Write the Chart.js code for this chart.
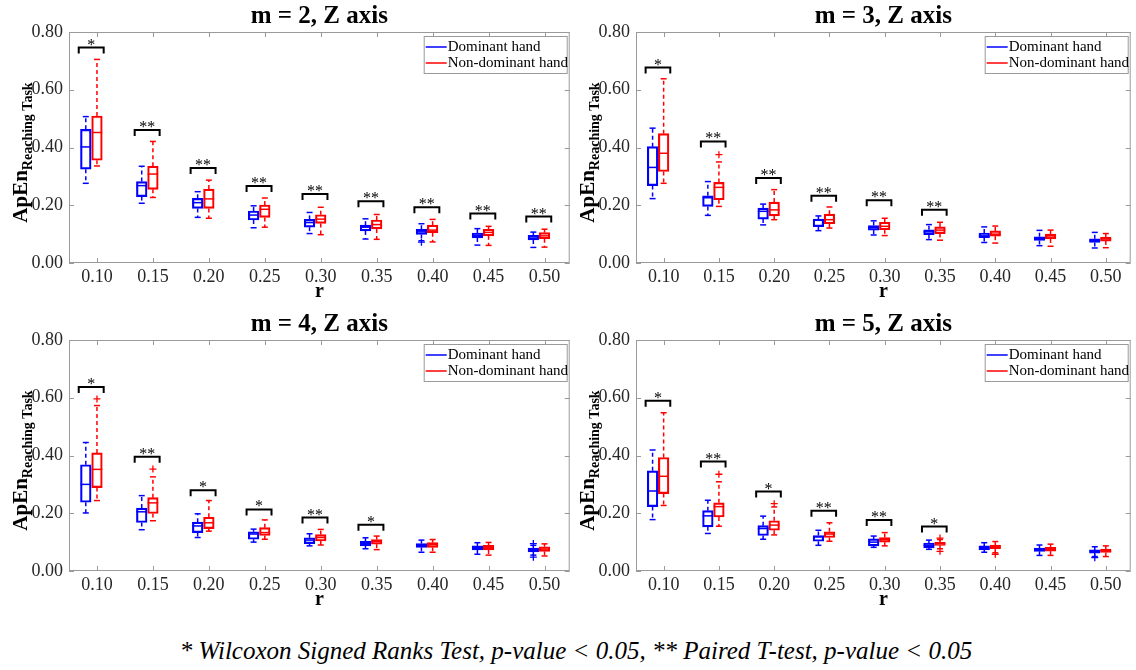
<!DOCTYPE html>
<html>
<head>
<meta charset="utf-8">
<script src="https://cdn.jsdelivr.net/npm/chart.js@4.4.0/dist/chart.umd.min.js"></script>
<style>
  body { margin: 0; background: #fff; width: 1136px; height: 670px; position: relative; overflow: hidden; }
  .panel { position: absolute; }
  #note { position: absolute; left: 16px; width: 1120px; top: 637px; text-align: center;
          font-family: 'Liberation Serif', 'Times New Roman', serif; font-style: italic; font-size: 25px; color: #000; }
</style>
</head>
<body>
<div class="panel" style="left:0;top:0"><canvas id="m2" width="575" height="305"></canvas></div>
<div class="panel" style="left:567px;top:0"><canvas id="m3" width="569" height="305"></canvas></div>
<div class="panel" style="left:0;top:308px"><canvas id="m4" width="575" height="305"></canvas></div>
<div class="panel" style="left:567px;top:308px"><canvas id="m5" width="569" height="305"></canvas></div>
<div id="note">* Wilcoxon Signed Ranks Test, p-value &lt; 0.05, ** Paired T-test, p-value &lt; 0.05</div>
<script>
const rValues = [0.10, 0.15, 0.20, 0.25, 0.30, 0.35, 0.40, 0.45, 0.50];
const yTicks = [0, 0.2, 0.4, 0.6, 0.8];

// each row: [lower whisker, Q1, median, Q3, upper whisker]
const m2Dominant = [
  [0.276, 0.325, 0.402, 0.463, 0.507],
  [0.207, 0.230, 0.268, 0.282, 0.335],
  [0.158, 0.189, 0.209, 0.224, 0.247],
  [0.122, 0.149, 0.166, 0.180, 0.198],
  [0.102, 0.124, 0.140, 0.151, 0.175],
  [0.083, 0.111, 0.124, 0.131, 0.153],
  [0.077, 0.099, 0.108, 0.117, 0.136],
  [0.062, 0.087, 0.096, 0.104, 0.119],
  [0.054, 0.080, 0.090, 0.096, 0.107]
];
const m2NonDominant = [
  [0.336, 0.356, 0.452, 0.509, 0.705],
  [0.227, 0.255, 0.308, 0.335, 0.421],
  [0.155, 0.189, 0.222, 0.256, 0.287],
  [0.124, 0.158, 0.186, 0.201, 0.225],
  [0.098, 0.137, 0.152, 0.167, 0.193],
  [0.082, 0.118, 0.133, 0.149, 0.168],
  [0.073, 0.105, 0.114, 0.131, 0.151],
  [0.061, 0.094, 0.106, 0.117, 0.127],
  [0.055, 0.084, 0.094, 0.105, 0.117]
];
const m2DomOutliers = [[0.40, 0.072]];
const m2NonDomOutliers = [];
const m2BracketY = [0.746, 0.461, 0.329, 0.267, 0.239, 0.214, 0.193, 0.171, 0.161];
const m2Marks = ['*', '**', '**', '**', '**', '**', '**', '**', '**'];

const m3Dominant = [
  [0.223, 0.268, 0.331, 0.403, 0.467],
  [0.165, 0.196, 0.226, 0.233, 0.282],
  [0.132, 0.152, 0.179, 0.190, 0.204],
  [0.112, 0.126, 0.148, 0.152, 0.163],
  [0.097, 0.114, 0.123, 0.130, 0.146],
  [0.081, 0.098, 0.108, 0.115, 0.133],
  [0.071, 0.088, 0.094, 0.104, 0.125],
  [0.060, 0.078, 0.085, 0.091, 0.113],
  [0.052, 0.071, 0.078, 0.084, 0.106]
];
const m3NonDominant = [
  [0.276, 0.317, 0.380, 0.448, 0.638],
  [0.196, 0.219, 0.262, 0.279, 0.350],
  [0.150, 0.163, 0.184, 0.211, 0.254],
  [0.121, 0.136, 0.150, 0.169, 0.194],
  [0.095, 0.115, 0.127, 0.141, 0.155],
  [0.079, 0.102, 0.114, 0.125, 0.141],
  [0.069, 0.093, 0.100, 0.111, 0.128],
  [0.058, 0.083, 0.090, 0.100, 0.114],
  [0.053, 0.076, 0.084, 0.090, 0.102]
];
const m3DomOutliers = [];
const m3NonDomOutliers = [[0.15, 0.375]];
const m3BracketY = [0.677, 0.421, 0.294, 0.233, 0.217, 0.184, null, null, null];
const m3Marks = ['*', '**', '**', '**', '**', '**', '', '', ''];

const m4Dominant = [
  [0.201, 0.238, 0.300, 0.368, 0.445],
  [0.143, 0.168, 0.205, 0.218, 0.261],
  [0.116, 0.133, 0.156, 0.169, 0.198],
  [0.100, 0.110, 0.128, 0.136, 0.145],
  [0.087, 0.095, 0.107, 0.115, 0.129],
  [0.077, 0.087, 0.096, 0.103, 0.115],
  [0.065, 0.082, 0.087, 0.095, 0.107],
  [0.058, 0.073, 0.081, 0.087, 0.098],
  [0.055, 0.066, 0.073, 0.079, 0.089]
];
const m4NonDominant = [
  [0.244, 0.289, 0.352, 0.409, 0.573],
  [0.174, 0.199, 0.236, 0.254, 0.326],
  [0.138, 0.147, 0.167, 0.186, 0.244],
  [0.110, 0.123, 0.133, 0.150, 0.177],
  [0.090, 0.104, 0.116, 0.126, 0.144],
  [0.074, 0.093, 0.103, 0.109, 0.121],
  [0.065, 0.082, 0.091, 0.098, 0.109],
  [0.055, 0.073, 0.082, 0.089, 0.099],
  [0.052, 0.068, 0.076, 0.084, 0.094]
];
const m4DomOutliers = [[0.50, 0.095], [0.50, 0.048]];
const m4NonDomOutliers = [[0.10, 0.596], [0.15, 0.353]];
const m4BracketY = [0.637, 0.396, 0.280, 0.213, 0.185, 0.160, null, null, null];
const m4Marks = ['*', '**', '*', '*', '**', '*', '', '', ''];

const m5Dominant = [
  [0.178, 0.223, 0.277, 0.347, 0.419],
  [0.130, 0.153, 0.191, 0.209, 0.245],
  [0.110, 0.123, 0.147, 0.157, 0.190],
  [0.089, 0.103, 0.118, 0.123, 0.141],
  [0.082, 0.087, 0.100, 0.111, 0.121],
  [0.075, 0.080, 0.089, 0.097, 0.107],
  [0.065, 0.073, 0.081, 0.087, 0.098],
  [0.054, 0.068, 0.074, 0.079, 0.090],
  [0.050, 0.062, 0.068, 0.073, 0.084]
];
const m5NonDominant = [
  [0.227, 0.268, 0.328, 0.393, 0.548],
  [0.155, 0.187, 0.223, 0.236, 0.309],
  [0.125, 0.141, 0.159, 0.174, 0.222],
  [0.103, 0.116, 0.128, 0.136, 0.167],
  [0.087, 0.100, 0.109, 0.116, 0.133],
  [0.077, 0.089, 0.095, 0.099, 0.109],
  [0.063, 0.077, 0.084, 0.090, 0.102],
  [0.054, 0.069, 0.076, 0.082, 0.093],
  [0.050, 0.064, 0.070, 0.076, 0.087]
];
const m5DomOutliers = [[0.50, 0.046]];
const m5NonDomOutliers = [[0.15, 0.335], [0.20, 0.233], [0.35, 0.114], [0.35, 0.068], [0.40, 0.058]];
const m5BracketY = [0.590, 0.379, 0.275, 0.209, 0.177, 0.154, null, null, null];
const m5Marks = ['*', '**', '*', '**', '**', '*', '', '', ''];

const BLUE = '#0000ff';
const RED = '#ff0000';
const AXIS = '#9a9a9a';
const FONT = "'Liberation Serif', 'Times New Roman', serif";
const DOM_SHIFT = -0.01;

function line(ctx, x1, y1, x2, y2) {
  ctx.beginPath();
  ctx.moveTo(x1, y1);
  ctx.lineTo(x2, y2);
  ctx.stroke();
}

function overlay(title, dom, nonDom, bracketY, marks) {
  return {
    id: 'overlay',
    afterDatasetsDraw(chart) {
      const { ctx, scales: { x, y } } = chart;
      ctx.save();
      ctx.lineWidth = 1.5;
      [[dom, BLUE, DOM_SHIFT], [nonDom, RED, 0]].forEach(([stats, color, shift]) => {
        ctx.strokeStyle = color;
        stats.forEach((s, i) => {
          const cx = x.getPixelForValue(rValues[i] + shift);
          const [lo, q1, med, q3, hi] = s.map(v => y.getPixelForValue(v));
          ctx.setLineDash([4, 3]);
          line(ctx, cx, q3, cx, hi);
          line(ctx, cx, q1, cx, lo);
          ctx.setLineDash([]);
          line(ctx, cx - 3, hi, cx + 3, hi);
          line(ctx, cx - 3, lo, cx + 3, lo);
          line(ctx, cx - 5.3, med, cx + 5.3, med);
        });
      });
      // significance brackets
      ctx.strokeStyle = '#000';
      ctx.fillStyle = '#000';
      ctx.lineWidth = 2;
      ctx.font = '16px ' + FONT;
      ctx.textAlign = 'center';
      ctx.textBaseline = 'alphabetic';
      bracketY.forEach((b, i) => {
        if (b == null) return;
        const x1 = x.getPixelForValue(rValues[i] - 0.0163);
        const x2 = x.getPixelForValue(rValues[i] + 0.006);
        const py = y.getPixelForValue(b);
        ctx.beginPath();
        ctx.moveTo(x1, py + 6);
        ctx.lineTo(x1, py);
        ctx.lineTo(x2, py);
        ctx.lineTo(x2, py + 6);
        ctx.stroke();
        ctx.fillText(marks[i], (x1 + x2) / 2, py + 2);
      });
      ctx.restore();
    },
    afterDraw(chart) {
      const { ctx, chartArea: a, scales: { x, y } } = chart;
      ctx.save();
      // axes box and inward ticks
      ctx.strokeStyle = AXIS;
      ctx.lineWidth = 1;
      ctx.strokeRect(a.left + 0.5, a.top + 0.5, a.right - a.left - 1, a.bottom - a.top - 1);
      yTicks.forEach(v => {
        const py = Math.round(y.getPixelForValue(v)) + 0.5;
        line(ctx, a.left, py, a.left + 5, py);
        line(ctx, a.right - 5, py, a.right, py);
      });
      rValues.forEach(v => {
        const px = Math.round(x.getPixelForValue(v)) + 0.5;
        line(ctx, px, a.bottom, px, a.bottom - 5);
        line(ctx, px, a.top, px, a.top + 5);
      });
      const cx = (a.left + a.right) / 2;
      ctx.fillStyle = '#000';
      ctx.textAlign = 'center';
      ctx.textBaseline = 'middle';
      ctx.font = 'bold 25px ' + FONT;
      ctx.fillText(title, cx, 17);
      ctx.font = 'bold 20px ' + FONT;
      ctx.fillText('r', cx, a.bottom + 29);
      // y-axis label with subscript
      ctx.translate(27, (a.top + a.bottom) / 2 + 5);
      ctx.rotate(-Math.PI / 2);
      ctx.font = 'bold 21px ' + FONT;
      const w1 = ctx.measureText('ApEn').width;
      ctx.font = 'bold 14px ' + FONT;
      const w2 = ctx.measureText('Reaching Task').width;
      const sx = -(w1 + w2) / 2;
      ctx.textAlign = 'left';
      ctx.textBaseline = 'alphabetic';
      ctx.font = 'bold 21px ' + FONT;
      ctx.fillText('ApEn', sx, 0);
      ctx.font = 'bold 14px ' + FONT;
      ctx.fillText('Reaching Task', sx + w1, 4.5);
      ctx.restore();
      // legend
      ctx.save();
      const lx = a.right - 146, ly = a.top + 4;
      ctx.fillStyle = '#fff';
      ctx.fillRect(lx, ly, 143, 37);
      ctx.strokeStyle = AXIS;
      ctx.lineWidth = 1;
      ctx.strokeRect(lx + 0.5, ly + 0.5, 143, 37);
      ctx.lineWidth = 1.5;
      ctx.font = '15px ' + FONT;
      ctx.fillStyle = '#000';
      ctx.textAlign = 'left';
      ctx.textBaseline = 'middle';
      [['Dominant hand', BLUE], ['Non-dominant hand', RED]].forEach(([t, c], k) => {
        const ry = ly + 11 + k * 16;
        ctx.strokeStyle = c;
        line(ctx, lx + 2, ry, lx + 23, ry);
        ctx.fillText(t, lx + 24, ry);
      });
      ctx.restore();
    }
  };
}

function makeChart(id, title, dom, nonDom, domOut, nonDomOut, bracketY, marks, rightPad) {
  const ctx = document.getElementById(id).getContext('2d');
  const boxStyle = {
    backgroundColor: 'rgba(0,0,0,0)',
    borderWidth: 1.5,
    borderSkipped: false,
    grouped: false,
    barPercentage: 1,
    categoryPercentage: 1,
    maxBarThickness: 10.6
  };
  const pointStyle = { type: 'scatter', pointStyle: 'cross', radius: 3.5, borderWidth: 1.3 };
  return new Chart(ctx, {
    type: 'bar',
    data: {
      datasets: [
        Object.assign({ label: 'Dominant hand', borderColor: BLUE,
          data: rValues.map((r, i) => ({ x: r + DOM_SHIFT, y: [dom[i][1], dom[i][3]] })) }, boxStyle),
        Object.assign({ label: 'Non-dominant hand', borderColor: RED,
          data: rValues.map((r, i) => ({ x: r, y: [nonDom[i][1], nonDom[i][3]] })) }, boxStyle),
        Object.assign({ label: 'Dominant outliers', borderColor: BLUE, backgroundColor: BLUE,
          data: domOut.map(o => ({ x: o[0] + DOM_SHIFT, y: o[1] })) }, pointStyle),
        Object.assign({ label: 'Non-dominant outliers', borderColor: RED, backgroundColor: RED,
          data: nonDomOut.map(o => ({ x: o[0], y: o[1] })) }, pointStyle)
      ]
    },
    options: {
      responsive: false,
      animation: false,
      layout: { padding: { left: 0, right: rightPad, top: 32, bottom: 0 } },
      plugins: { legend: { display: false }, tooltip: { enabled: false }, title: { display: false } },
      scales: {
        x: {
          type: 'linear',
          min: 0.075,
          max: 0.5225,
          offset: false,
          grid: { display: false, drawTicks: false },
          border: { display: false },
          afterBuildTicks: s => { s.ticks = rValues.map(v => ({ value: v })); },
          afterFit: s => { s.height = 42; },
          ticks: {
            padding: 3, autoSkip: false, maxRotation: 0,
            color: '#262626', font: { family: FONT, size: 18 },
            callback: v => Number(v).toFixed(2)
          }
        },
        y: {
          min: 0,
          max: 0.8,
          grid: { display: false, drawTicks: false },
          border: { display: false },
          afterBuildTicks: s => { s.ticks = yTicks.map(v => ({ value: v })); },
          afterFit: s => { s.width = 69; },
          ticks: {
            padding: 6,
            color: '#262626', font: { family: FONT, size: 18 },
            callback: v => Number(v).toFixed(2)
          }
        }
      }
    },
    plugins: [overlay(title, dom, nonDom, bracketY, marks)]
  });
}

makeChart('m2', 'm = 2, Z axis', m2Dominant, m2NonDominant, m2DomOutliers, m2NonDomOutliers, m2BracketY, m2Marks, 4);
makeChart('m3', 'm = 3, Z axis', m3Dominant, m3NonDominant, m3DomOutliers, m3NonDomOutliers, m3BracketY, m3Marks, 1);
makeChart('m4', 'm = 4, Z axis', m4Dominant, m4NonDominant, m4DomOutliers, m4NonDomOutliers, m4BracketY, m4Marks, 4);
makeChart('m5', 'm = 5, Z axis', m5Dominant, m5NonDominant, m5DomOutliers, m5NonDomOutliers, m5BracketY, m5Marks, 1);
</script>
</body>
</html>
